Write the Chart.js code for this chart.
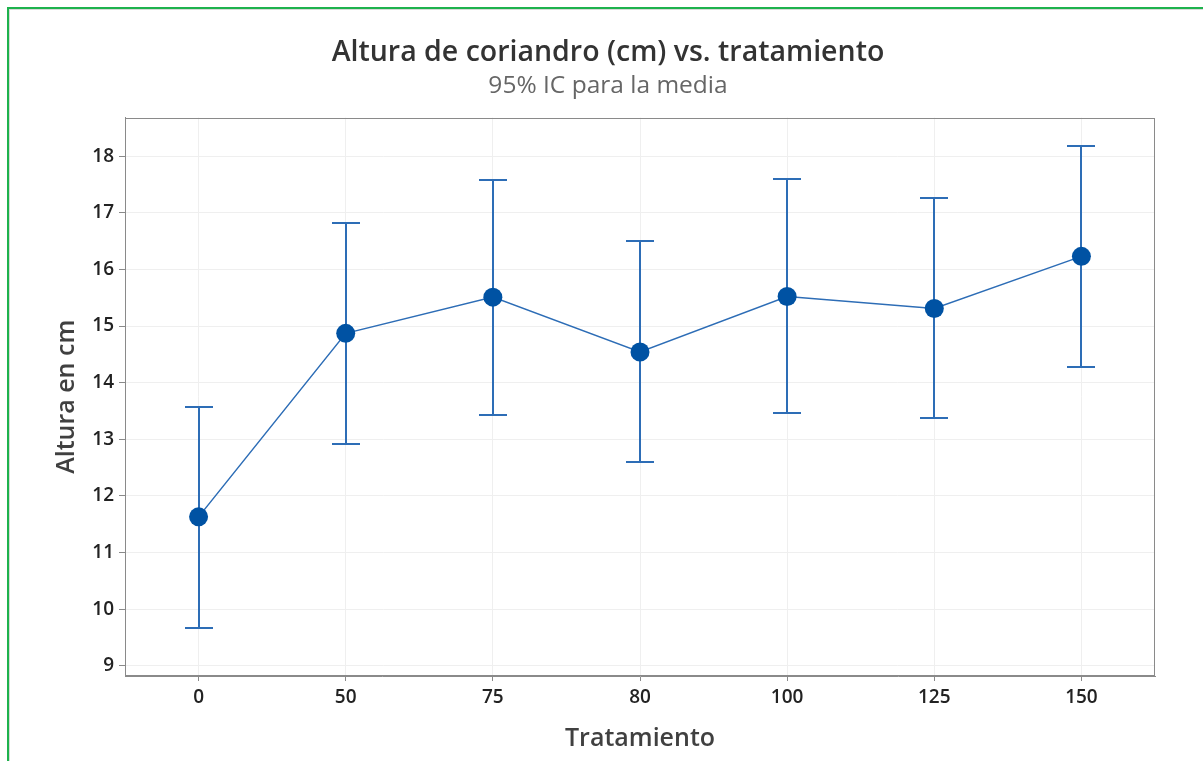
<!DOCTYPE html>
<html>
<head>
<meta charset="utf-8">
<title>Altura de coriandro (cm) vs. tratamiento</title>
<script src="https://cdn.jsdelivr.net/npm/chart.js@4.4.1/dist/chart.umd.min.js"></script>
<style>
  html, body { margin: 0; padding: 0; background: #fff; overflow: hidden; width: 1203px; height: 761px; }
  .frame { position: absolute; left: 7px; top: 7px; width: 1300px; height: 900px;
           border-left: 2px solid #1eb24d; border-top: 2px solid #1eb24d; }
  .frame-inner { position: absolute; left: 0; top: 0; right: 0; bottom: 0;
                 border-left: 1px solid #d9d9d9; border-top: 1px solid #d9d9d9; }
  #wrap { position: absolute; left: 0; top: 0; width: 1203px; height: 761px; }
</style>
</head>
<body>
<div class="frame"><div class="frame-inner"></div></div>
<div id="wrap"><canvas id="chart" width="1203" height="761"></canvas></div>
<script>
// Treatments (x categories) and coriander height summary per treatment
const treatments = ['0', '50', '75', '80', '100', '125', '150'];
const meanHeight = [11.63, 14.87, 15.51, 14.54, 15.52, 15.31, 16.23];
const ciLower    = [9.67, 12.92, 13.42, 12.60, 13.47, 13.38, 14.28];
const ciUpper    = [13.57, 16.82, 17.57, 16.50, 17.60, 17.26, 18.17];
const yTicks     = [9, 10, 11, 12, 13, 14, 15, 16, 17, 18];

const FONT = "'Open Sans', 'Noto Sans', sans-serif";
const BLUE_LINE = '#2d6db6';
const BLUE_DOT = '#0052a3';

// 95% confidence interval whiskers with caps
const errorBars = {
  id: 'errorBars',
  beforeDatasetsDraw(chart, args, opts) {
    const { ctx, scales: { x, y } } = chart;
    ctx.save();
    ctx.strokeStyle = opts.color;
    ctx.lineWidth = opts.width;
    treatments.forEach((t, i) => {
      const px = Math.round(x.getPixelForValue(i));
      const yu = Math.round(y.getPixelForValue(ciUpper[i]));
      const yl = Math.round(y.getPixelForValue(ciLower[i]));
      ctx.beginPath();
      ctx.moveTo(px, yu); ctx.lineTo(px, yl);
      ctx.moveTo(px - opts.cap, yu); ctx.lineTo(px + opts.cap, yu);
      ctx.moveTo(px - opts.cap, yl); ctx.lineTo(px + opts.cap, yl);
      ctx.stroke();
    });
    ctx.restore();
  }
};

// Closed box around the plotting area
const plotFrame = {
  id: 'plotFrame',
  beforeDatasetsDraw(chart, args, opts) {
    const { ctx, chartArea: a } = chart;
    ctx.save();
    ctx.strokeStyle = opts.color;
    ctx.lineWidth = 1;
    const l = Math.round(a.left) + 0.5, t = Math.round(a.top) + 0.5;
    const r = Math.round(a.right) - 0.5, b = Math.round(a.bottom) - 0.5;
    ctx.strokeRect(l, t, r - l, b - t);
    ctx.restore();
  }
};

new Chart(document.getElementById('chart'), {
  type: 'line',
  data: {
    labels: treatments,
    datasets: [{
      label: 'Altura en cm',
      data: meanHeight,
      borderColor: BLUE_LINE,
      borderWidth: 1.5,
      pointRadius: 9.5,
      pointHoverRadius: 9.5,
      pointBackgroundColor: BLUE_DOT,
      pointBorderWidth: 0,
      tension: 0,
      fill: false
    }]
  },
  options: {
    responsive: false,
    devicePixelRatio: 1,
    animation: false,
    layout: { padding: { left: 61, right: 48, top: 36, bottom: 0 } },
    plugins: {
      legend: { display: false },
      tooltip: { enabled: false },
      title: {
        display: true,
        text: 'Altura de coriandro (cm) vs. tratamiento',
        color: '#333333',
        font: { family: FONT, size: 28.5, weight: '600', lineHeight: 1.2 },
        padding: { top: 0, bottom: 0 }
      },
      subtitle: {
        display: true,
        text: '95% IC para la media',
        color: '#666666',
        font: { family: FONT, size: 24.5, weight: '400', lineHeight: 1.2 },
        padding: { top: 1, bottom: 17 }
      },
      errorBars: { color: BLUE_LINE, width: 2, cap: 14 },
      plotFrame: { color: '#8a8a8a' }
    },
    scales: {
      x: {
        type: 'category',
        offset: true,
        grid: { color: '#efefef', tickColor: '#8a8a8a', tickLength: 5, offset: false },
        border: { color: '#8a8a8a' },
        ticks: { color: '#222222', padding: 5, font: { family: FONT, size: 19, weight: '600' } },
        title: {
          display: true,
          text: 'Tratamiento',
          color: '#404040',
          font: { family: FONT, size: 25, weight: '600', lineHeight: 1.2 },
          padding: { top: 0, bottom: 7 }
        },
        afterFit(scale) { scale.height = 85; }
      },
      y: {
        min: 8.82,
        max: 18.68,
        afterBuildTicks(scale) { scale.ticks = yTicks.map(v => ({ value: v })); },
        grid: { color: '#efefef', tickColor: '#8a8a8a', tickLength: 6 },
        border: { color: '#8a8a8a' },
        ticks: { color: '#222222', padding: 5, font: { family: FONT, size: 19, weight: '600' } },
        title: {
          display: true,
          text: 'Altura en cm',
          color: '#404040',
          font: { family: FONT, size: 25, weight: '600', lineHeight: 1.2 },
          padding: { top: -9, bottom: 0 }
        },
        afterFit(scale) { scale.width = 64; }
      }
    }
  },
  plugins: [plotFrame, errorBars]
});
</script>
</body>
</html>
